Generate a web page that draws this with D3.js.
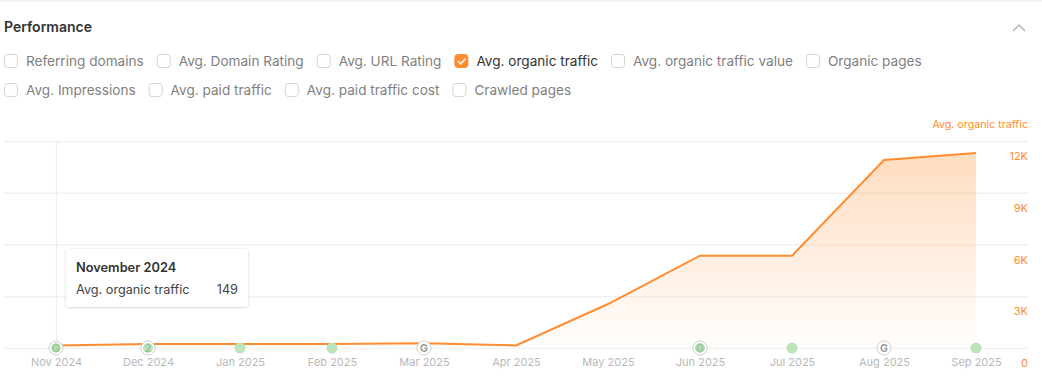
<!DOCTYPE html>
<html>
<head>
<meta charset="utf-8">
<script src="https://cdn.jsdelivr.net/npm/d3@7"></script>
<style>
	html, body { margin: 0; padding: 0; background: #fff; overflow: hidden; }
	svg { display: block; font-family: Inter, sans-serif; }
	.tick-label { font-size: 11px; }
</style>
</head>
<body>
<svg id="chart" width="1042" height="383"></svg>
<script>
const months = ["Nov 2024", "Dec 2024", "Jan 2025", "Feb 2025", "Mar 2025", "Apr 2025", "May 2025", "Jun 2025", "Jul 2025", "Aug 2025", "Sep 2025"];
const traffic = [149, 230, 230, 230, 280, 150, 2550, 5350, 5350, 10900, 11300];
const yTicks = [0, 3000, 6000, 9000, 12000];
const yTickLabels = ["0", "3K", "6K", "9K", "12K"];
const filterRow1 = ["Referring domains", "Avg. Domain Rating", "Avg. URL Rating", "Avg. organic traffic", "Avg. organic traffic value", "Organic pages"];
const filterRow2 = ["Avg. Impressions", "Avg. paid traffic", "Avg. paid traffic cost", "Crawled pages"];
const checkedFilter = "Avg. organic traffic";
const seriesName = "Avg. organic traffic";
const greenDots = ["Nov 2024", "Dec 2024", "Jan 2025", "Feb 2025", "Jun 2025", "Jul 2025", "Sep 2025"];
const ringedMonths = ["Nov 2024", "Dec 2024", "Mar 2025", "Jun 2025", "Aug 2025"];
const ringLabels = ["G", "2", "G", "G", "G"];
const tooltipMonth = "November 2024";
const tooltipValue = "149";

const colors = { orange: "#ff8c2e", grid: "#f1f1f1", gray: "#7f7f7f", axis: "#b8b8b8", dark: "#333" };

const svg = d3.select("#chart");

const x = d3.scalePoint().domain(months).range([56, 976]);
const y = d3.scaleLinear().domain([0, 12000]).range([348, 141]);

// top border and header
svg.append("line").attr("x1", 0).attr("x2", 1042).attr("y1", 1).attr("y2", 1)
	.attr("stroke", "#f0f0f0").attr("stroke-width", 1.5);

svg.append("text").attr("x", 4).attr("y", 32)
	.attr("font-size", 14).attr("font-weight", 600).attr("fill", colors.dark)
	.text("Performance");

svg.append("path").attr("d", "M1013 31L1019 25L1025 31")
	.attr("fill", "none").attr("stroke", "#b5b5b5").attr("stroke-width", 1.5);

// checkbox rows, laid out by text width
function drawFilters(labels, baseline) {
	let cursor = 4;
	labels.forEach(label => {
		const on = label === checkedFilter;
		svg.append("rect")
			.attr("x", cursor + 0.5).attr("y", baseline - 11.5)
			.attr("width", 13).attr("height", 13).attr("rx", 3)
			.attr("fill", on ? colors.orange : "#fff")
			.attr("stroke", on ? colors.orange : "#d4d4d4");
		if (on) {
			svg.append("path")
				.attr("d", `M${cursor + 3.5} ${baseline - 5}l2.8 2.8l4.6 -5`)
				.attr("fill", "none").attr("stroke", "#fff").attr("stroke-width", 1.6);
		}
		const t = svg.append("text")
			.attr("x", cursor + 22).attr("y", baseline)
			.attr("font-size", 13.6)
			.attr("fill", on ? colors.dark : colors.gray)
			.text(label);
		cursor += 22 + t.node().getComputedTextLength() + 13;
	});
}
drawFilters(filterRow1, 66);
drawFilters(filterRow2, 95);

// grid
svg.append("g").selectAll("line")
	.data(yTicks)
	.join("line")
	.attr("x1", 4).attr("x2", 1028)
	.attr("y1", d => y(d) + 0.5).attr("y2", d => y(d) + 0.5)
	.attr("stroke", colors.grid).attr("stroke-width", 1.3);

// hover line
svg.append("line")
	.attr("x1", x(months[0]) + 0.5).attr("x2", x(months[0]) + 0.5)
	.attr("y1", y(12000)).attr("y2", y(0))
	.attr("stroke", "#efefef").attr("stroke-width", 1.3);

// area and line
const gradient = svg.append("defs").append("linearGradient")
	.attr("id", "areaFill")
	.attr("gradientUnits", "userSpaceOnUse")
	.attr("x1", 0).attr("x2", 0)
	.attr("y1", y(d3.max(traffic))).attr("y2", y(0));
gradient.append("stop").attr("offset", 0).attr("stop-color", colors.orange).attr("stop-opacity", 0.3);
gradient.append("stop").attr("offset", 1).attr("stop-color", colors.orange).attr("stop-opacity", 0.01);

svg.append("path").datum(traffic)
	.attr("fill", "url(#areaFill)")
	.attr("d", d3.area().x((d, i) => x(months[i])).y0(y(0)).y1(d => y(d)));

svg.append("path").datum(traffic)
	.attr("fill", "none")
	.attr("stroke", colors.orange).attr("stroke-width", 2)
	.attr("d", d3.line().x((d, i) => x(months[i])).y(d => y(d)));

// x axis labels
const xAxis = svg.append("g")
	.attr("transform", `translate(0, ${y(0)})`)
	.call(d3.axisBottom(x).tickSize(0).tickPadding(10));
xAxis.select(".domain").remove();
xAxis.selectAll("text")
	.attr("class", "tick-label")
	.attr("font-family", "Inter, sans-serif")
	.attr("fill", colors.axis);

// y axis labels, sitting under each grid line
const yAxis = svg.append("g")
	.attr("transform", "translate(1028, 15)")
	.call(d3.axisLeft(y).tickValues(yTicks).tickFormat((d, i) => yTickLabels[i]).tickSize(0).tickPadding(0));
yAxis.select(".domain").remove();
yAxis.selectAll("text")
	.attr("class", "tick-label")
	.attr("font-family", "Inter, sans-serif")
	.attr("fill", colors.orange);

svg.append("text").attr("x", 1028).attr("y", 128)
	.attr("text-anchor", "end").attr("font-size", 10.7).attr("fill", colors.orange)
	.text(seriesName);

// event markers on the baseline
ringedMonths.forEach((m, i) => {
	svg.append("circle").attr("cx", x(m)).attr("cy", y(0)).attr("r", 7)
		.attr("fill", "#fff").attr("stroke", "#d0d0d0");
	if (!greenDots.includes(m)) {
		svg.append("text").attr("x", x(m)).attr("y", y(0) + 3.8)
			.attr("text-anchor", "middle").attr("font-size", 10.5).attr("font-weight", 700)
			.attr("fill", "#9a9a9a").text(ringLabels[i]);
	}
});
svg.append("g").selectAll("circle")
	.data(greenDots)
	.join("circle")
	.attr("cx", d => x(d)).attr("cy", y(0))
	.attr("r", d => ringedMonths.includes(d) ? 5 : 5.5)
	.attr("fill", "#bce3ba");
ringedMonths.forEach((m, i) => {
	if (greenDots.includes(m)) {
		svg.append("text").attr("x", x(m)).attr("y", y(0) + 3.8)
			.attr("text-anchor", "middle").attr("font-size", 10.5).attr("font-weight", 700)
			.attr("fill", "#98c797").text(ringLabels[i]);
	}
});

// tooltip
const shadow = svg.select("defs").append("filter").attr("id", "tipShadow")
	.attr("x", "-10%").attr("y", "-20%").attr("width", "120%").attr("height", "140%");
shadow.append("feDropShadow").attr("dx", 0).attr("dy", 0.5).attr("stdDeviation", 1)
	.attr("flood-color", "#000").attr("flood-opacity", 0.2);

const tip = svg.append("g").attr("transform", "translate(66, 249)");
tip.append("rect").attr("x", 0).attr("y", 0).attr("width", 182).attr("height", 58).attr("rx", 3)
	.attr("fill", "#fff").attr("filter", "url(#tipShadow)");
tip.append("text").attr("x", 10).attr("y", 23)
	.attr("font-size", 12.8).attr("font-weight", 600).attr("fill", colors.dark)
	.text(tooltipMonth);
tip.append("text").attr("x", 10).attr("y", 45)
	.attr("font-size", 12.7).attr("fill", "#444")
	.text(seriesName);
tip.append("text").attr("x", 172).attr("y", 45).attr("text-anchor", "end")
	.attr("font-size", 12.7).attr("fill", "#444")
	.text(tooltipValue);
</script>
</body>
</html>
